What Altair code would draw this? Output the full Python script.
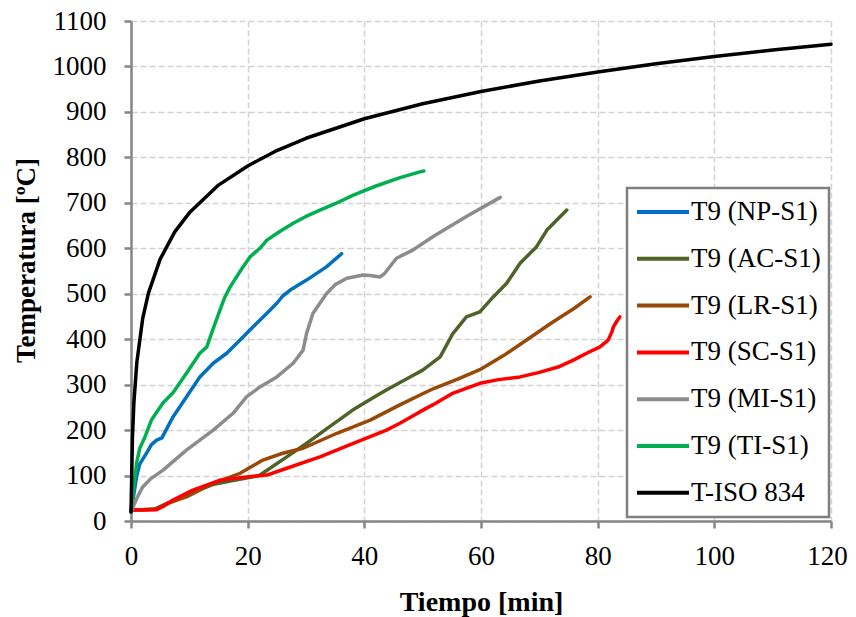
import altair as alt
import pandas as pd

series_names = ["T9 (NP-S1)", "T9 (AC-S1)", "T9 (LR-S1)", "T9 (SC-S1)",
                "T9 (MI-S1)", "T9 (TI-S1)", "T-ISO 834"]
series_colors = ["#0070C0", "#4F6228", "#984807", "#FF0000",
                 "#8C8C8C", "#00B050", "#000000"]

np_t = [0, 0.5, 1, 1.5, 2.2, 2.7, 3.5, 4.4, 5.3, 6, 7.2, 9.5, 11.8, 14.1, 16.4,
        18.7, 20.9, 23.3, 25, 26, 27.3, 30.1, 33.5, 36.1]
np_T = [20, 60, 100, 125, 140, 150, 168, 178, 183, 200, 229, 273, 317, 347, 369,
        398, 427, 457, 479, 495, 508, 530, 559, 588]

ac_t = [0.5, 2, 4, 6, 8, 10, 12, 14, 17, 20, 22, 26.7, 30, 34, 38, 42, 44, 48,
        50, 53, 55.2, 57.5, 59.8, 62.1, 64.4, 66.7, 69.5, 71.3, 74.7]
ac_T = [25, 25, 26, 37, 48, 60, 70, 80, 88, 95, 100, 141, 170, 207, 244, 275,
        290, 318, 332, 361, 413, 449, 460, 493, 523, 567, 603, 640, 684]

lr_t = [0.5, 2, 4.4, 6, 9.5, 14.1, 18.7, 22.6, 26, 29.5, 35.3, 41, 46, 50, 52,
        56, 59.8, 64, 68, 72, 76, 78.7]
lr_T = [25, 25, 27, 38, 53, 83, 105, 134, 149, 160, 193, 222, 255, 280, 292,
        312, 333, 365, 400, 435, 468, 493]

sc_t = [0.5, 2, 4.4, 5.5, 7.2, 10.6, 15.3, 19.8, 23.3, 26.7, 32.4, 38.1, 43.8,
        46.1, 49.5, 51.8, 55, 59.8, 63, 66.7, 70, 73.5, 76, 78.1, 80.4, 81.8,
        82.4, 82.7, 83.3, 83.8]
sc_T = [24, 24, 25, 32, 46, 68, 90, 97, 101, 116, 141, 171, 200, 215, 240, 256,
        280, 303, 311, 317, 327, 340, 355, 369, 383, 398, 415, 427, 440, 449]

mi_t = [0, 1, 2, 3.3, 5.5, 9.5, 14.1, 17.5, 19.8, 22.1, 25, 27.8, 29.5, 30.1,
        31.2, 33.5, 35, 37, 39.8, 41, 42.7, 43.5, 45.5, 48.3, 51.8, 57.5, 63.3]
mi_T = [20, 50, 75, 92, 112, 156, 200, 237, 273, 295, 317, 347, 376, 413, 457,
        500, 520, 534, 541, 540, 537, 545, 578, 596, 626, 670, 712]

ti_t = [0, 0.5, 1, 1.5, 2.4, 3.5, 5.5, 7.2, 9.5, 11.8, 13, 14, 15, 16, 17, 18,
        19.2, 20.4, 22.1, 23.3, 25.5, 27.8, 30, 32.4, 35, 38.1, 42, 46, 49.5,
        50.2]
ti_T = [20, 80, 130, 160, 185, 222, 260, 282, 325, 369, 383, 420, 455, 490, 515,
        535, 559, 581, 600, 618, 637, 655, 670, 684, 698, 717, 737, 755, 768, 770]

iso_t = [0, 0.25, 0.5, 1, 2, 3, 5, 7.5, 10, 15, 20, 25, 30, 40, 50, 60, 70, 80,
         90, 100, 110, 120]
iso_T = [20, 185, 261, 349, 445, 502, 576, 636, 678, 739, 781, 815, 842, 885,
         918, 945, 968, 988, 1006, 1022, 1036, 1049]

x_ticks = [0, 20, 40, 60, 80, 100, 120]
y_ticks = [0, 100, 200, 300, 400, 500, 600, 700, 800, 900, 1000, 1100]

all_t = [np_t, ac_t, lr_t, sc_t, mi_t, ti_t, iso_t]
all_T = [np_T, ac_T, lr_T, sc_T, mi_T, ti_T, iso_T]

rows = []
for k, (name, ts, Ts) in enumerate(zip(series_names, all_t, all_T)):
    for i, (t, T) in enumerate(zip(ts, Ts)):
        rows.append({"serie": name, "t": t, "T": T, "k": k, "i": i})
df = pd.DataFrame(rows)

FONT = "Liberation Serif"

chart = alt.Chart(df).mark_line(strokeWidth=3.5, strokeCap="round", strokeJoin="round").encode(
    x=alt.X("t:Q",
            scale=alt.Scale(domain=[0, 120], nice=False, zero=False),
            axis=alt.Axis(values=x_ticks, title="Tiempo [min]", format="d",
                          labelFlush=False, labelOverlap=False,
                          labelOffset={"condition": {"test": "datum.value == 120", "value": -4},
                                       "value": 0},
                          labelPadding=15, titleY=89, titleBaseline="alphabetic")),
    y=alt.Y("T:Q",
            scale=alt.Scale(domain=[0, 1100], nice=False),
            axis=alt.Axis(values=y_ticks, title="Temperatura [ºC]", format="d",
                          labelFlush=False, labelOverlap=False, titleFontSize=27,
                          labelPadding=18, titleX=-97, titleY=239, titleAngle=-90,
                          titleBaseline="alphabetic")),
    color=alt.Color("serie:N",
                    scale=alt.Scale(domain=series_names, range=series_colors),
                    legend=alt.Legend(title=None, orient="none",
                                      legendX=496, legendY=167)),
    detail="k:N",
    order="i:Q",
).properties(
    width=700, height=500,
    autosize=alt.AutoSizeParams(type="none"),
    padding={"left": 123, "top": 13, "right": 17, "bottom": 96},
).configure_view(
    stroke=None
).configure_axis(
    labelFont=FONT, labelFontSize=27, labelColor="#000000",
    titleFont=FONT, titleFontSize=28, titleFontWeight="bold", titleColor="#000000",
    domainColor="#868686", domainWidth=2.5,
    tickColor="#868686", tickWidth=2.5, tickSize=7,
    gridColor="#D3D3D3", gridWidth=1.5, gridDash=[6, 3],
).configure_legend(
    labelFont=FONT, labelFontSize=27, labelColor="#000000",
    symbolType="stroke", symbolStrokeWidth=4, symbolSize=2704,
    strokeColor="#7F7F7F", strokeWidth=2.5, fillColor="#FFFFFF",
    padding=8, clipHeight=32, rowPadding=14.8, symbolOffset=0,
    labelOffset=0, labelLimit=300,
)

chart.save("out.html", embed_options={"renderer": "svg", "actions": False})
